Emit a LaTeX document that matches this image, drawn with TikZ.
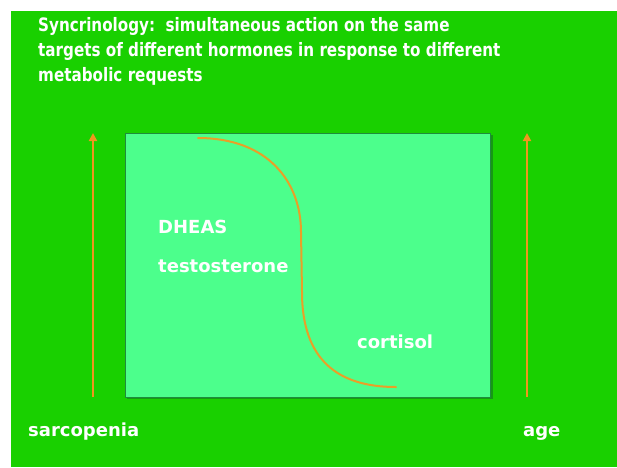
\documentclass[tikz,border=0pt]{standalone}
\usepackage{fontspec}
\setmainfont{DejaVu Sans}
\newfontfamily\titlefont{DejaVu Sans}[FakeStretch=0.82]
\usetikzlibrary{arrows.meta}
\definecolor{bggreen}{RGB}{25,208,0}
\definecolor{boxgreen}{RGB}{76,255,140}
\definecolor{boxedge}{RGB}{30,140,60}
\definecolor{arroworange}{RGB}{240,150,30}
\definecolor{curveorange}{RGB}{232,160,40}
\tikzset{
  titletext/.style={anchor=base west, inner sep=0pt, text=white, font=\titlefont\bfseries\fontsize{18.5}{25}\selectfont},
  labeltext/.style={anchor=base west, inner sep=0pt, text=white, font=\bfseries\fontsize{18}{22}\selectfont},
  axisarrow/.style={draw=arroworange, line width=2pt, -{Triangle[width=8pt,length=8pt]}},
}
\begin{document}
\begin{tikzpicture}[x=1pt,y=-1pt]
\useasboundingbox (0,0) rectangle (617,467);
\fill[white] (0,0) rectangle (617,467);
\fill[bggreen] (11,11) rectangle (617,467);
% title
\node[titletext] (title1) at (38,31) {Syncrinology:\ \ simultaneous action on the same};
\node[titletext] (title2) at (38,56) {targets of different hormones in response to different};
\node[titletext] (title3) at (38,81) {metabolic requests};
% box with shadow
\fill[boxedge!70!black, opacity=0.5] (127,135) rectangle (492.5,399);
\filldraw[fill=boxgreen, draw=boxedge, line width=1pt] (125,133) rectangle (490.5,397);
% S curve
\coordinate (cstart) at (198,138);
\coordinate (cmid1) at (301,232);
\coordinate (cmid2) at (302,292);
\coordinate (cend) at (396,387);
\draw[curveorange, line width=2pt, line cap=round]
  (cstart) .. controls (268,138) and (301,182) .. (cmid1)
  -- (cmid2) .. controls (302,360) and (338,387) .. (cend);
% labels
\node[labeltext] (dheas) at (158,233) {DHEAS};
\node[labeltext] (testo) at (158,272) {testosterone};
\node[labeltext] (cortisol) at (357,348) {cortisol};
\node[labeltext] (sarco) at (28,436) {sarcopenia};
\node[labeltext] (age) at (523,436) {age};
% arrows
\coordinate (la0) at (93,397);
\coordinate (la1) at (93,133);
\coordinate (ra0) at (527,397);
\coordinate (ra1) at (527,133);
\draw[axisarrow] (la0) -- (la1);
\draw[axisarrow] (ra0) -- (ra1);
\end{tikzpicture}
\end{document}
